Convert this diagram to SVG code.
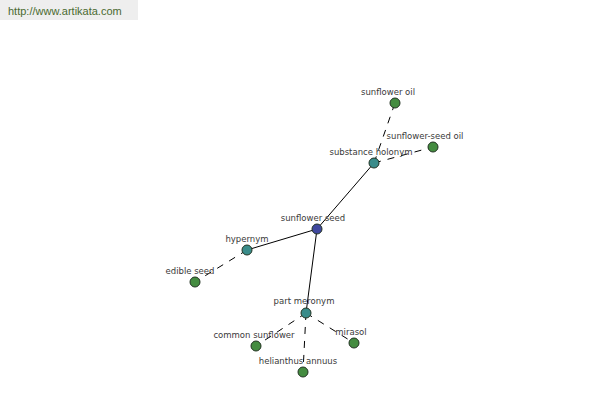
<svg xmlns="http://www.w3.org/2000/svg" width="600" height="400" viewBox="0 0 600 400">
<style>
.n{stroke:#223322;stroke-width:1}
.root{fill:#3f479e}
.rel{fill:#3a8c8a}
.leaf{fill:#448c40}
.lbl{font-family:"DejaVu Sans",sans-serif;font-size:8.5px;fill:#3a3a3a;text-anchor:middle}
.s{stroke:#000;stroke-width:1;fill:none}
.d{stroke:#000;stroke-width:1;fill:none;stroke-dasharray:7 7}
</style>
<rect x="0" y="0" width="138" height="20" fill="#eeeeee"/>
<text x="8" y="15" font-family="Liberation Sans, sans-serif" font-size="11px" fill="#4a6a30">http://www.artikata.com</text>
<g id="connectors">
<line class="s" x1="317" y1="229" x2="374" y2="163"/>
<line class="s" x1="317" y1="229" x2="247" y2="250"/>
<line class="s" x1="317" y1="229" x2="306" y2="313"/>
<line class="d" x1="374" y1="163" x2="395" y2="103"/>
<line class="d" x1="374" y1="163" x2="433" y2="147"/>
<line class="d" x1="247" y1="250" x2="195" y2="282"/>
<line class="d" x1="306" y1="313" x2="256" y2="346"/>
<line class="d" x1="306" y1="313" x2="303" y2="372"/>
<line class="d" x1="306" y1="313" x2="354" y2="343"/>
</g>
<g id="sunflower-seed"><circle class="n root" cx="317" cy="229" r="5"/><text class="lbl" x="313" y="221">sunflower seed</text></g>
<g id="substance-holonym"><circle class="n rel" cx="374" cy="163" r="5"/><text class="lbl" x="371" y="155">substance holonym</text></g>
<g id="sunflower-oil"><circle class="n leaf" cx="395" cy="103" r="5"/><text class="lbl" x="388" y="95">sunflower oil</text></g>
<g id="sunflower-seed-oil"><circle class="n leaf" cx="433" cy="147" r="5"/><text class="lbl" x="425" y="139">sunflower-seed oil</text></g>
<g id="hypernym"><circle class="n rel" cx="247" cy="250" r="5"/><text class="lbl" x="247" y="242">hypernym</text></g>
<g id="edible-seed"><circle class="n leaf" cx="195" cy="282" r="5"/><text class="lbl" x="190" y="274">edible seed</text></g>
<g id="part-meronym"><circle class="n rel" cx="306" cy="313" r="5"/><text class="lbl" x="304" y="304">part meronym</text></g>
<g id="common-sunflower"><circle class="n leaf" cx="256" cy="346" r="5"/><text class="lbl" x="254" y="338">common sunflower</text></g>
<g id="helianthus-annuus"><circle class="n leaf" cx="303" cy="372" r="5"/><text class="lbl" x="298" y="364">helianthus annuus</text></g>
<g id="mirasol"><circle class="n leaf" cx="354" cy="343" r="5"/><text class="lbl" x="351" y="335">mirasol</text></g>
</svg>
